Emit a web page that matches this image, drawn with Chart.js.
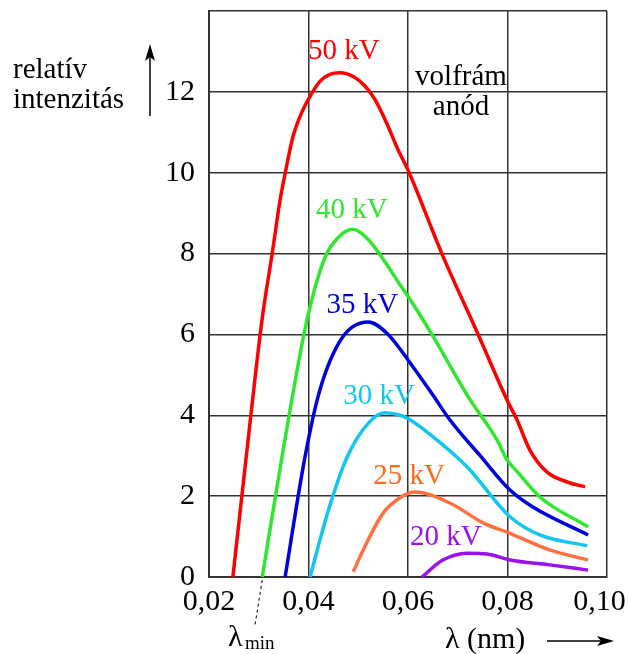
<!DOCTYPE html>
<html>
<head>
<meta charset="utf-8">
<script src="https://cdn.jsdelivr.net/npm/chart.js@4"></script>
<style>
html,body{margin:0;padding:0;background:#fff;}
#wrap{width:628px;height:654px;position:relative;}
</style>
</head>
<body>
<div id="wrap"><canvas id="c" width="628" height="654"></canvas></div>
<script>
// ---- data (wavelength in nm, relative intensity) ----
const lambda50 = [0.0248, 0.0276, 0.0307, 0.0327, 0.0343, 0.0353, 0.0369, 0.0386, 0.0403, 0.0423, 0.0443, 0.0463, 0.0490, 0.0514, 0.0534, 0.0557, 0.0577, 0.0603, 0.0668, 0.0741, 0.0799, 0.0819, 0.0845, 0.0879, 0.0920, 0.0956];
const int50    = [0, 3.1, 6.4, 8.0, 9.33, 9.98, 10.9, 11.48, 11.89, 12.26, 12.43, 12.47, 12.38, 12.14, 11.8, 11.23, 10.65, 9.98, 8.0, 6.0, 4.38, 3.89, 3.14, 2.6, 2.35, 2.23];

const lambda40 = [0.0307, 0.0349, 0.0397, 0.0433, 0.0460, 0.0489, 0.0520, 0.0584, 0.0614, 0.0648, 0.0725, 0.0779, 0.0799, 0.0820, 0.0865, 0.0962];
const int40    = [0, 3.14, 6.36, 7.9, 8.4, 8.6, 8.35, 7.23, 6.68, 6.0, 4.38, 3.39, 2.9, 2.6, 1.98, 1.24];

const lambda35 = [0.0353, 0.0393, 0.0423, 0.0469, 0.0520, 0.0560, 0.0604, 0.0650, 0.0684, 0.0745, 0.0805, 0.0851, 0.0962];
const int35    = [0, 2.97, 4.63, 5.94, 6.31, 6.0, 5.3, 4.5, 3.89, 3.0, 2.15, 1.73, 1.04];

const lambda30 = [0.0403, 0.0440, 0.0477, 0.0520, 0.0554, 0.0584, 0.0604, 0.0650, 0.0719, 0.0805, 0.0865, 0.0960];
const int30    = [0, 1.65, 2.95, 3.8, 4.06, 4.0, 3.89, 3.47, 2.72, 1.49, 1.04, 0.77];

const lambda25 = [0.0490, 0.0510, 0.0550, 0.0584, 0.0614, 0.0684, 0.0751, 0.0805, 0.0885, 0.0962];
const int25    = [0.13, 0.67, 1.58, 1.96, 2.1, 1.83, 1.34, 1.08, 0.67, 0.42];

const lambda20 = [0.0628, 0.0670, 0.0719, 0.0759, 0.0805, 0.0885, 0.0962];
const int20    = [0, 0.42, 0.59, 0.57, 0.42, 0.3, 0.17];

const seriesNames = ['50 kV', '40 kV', '35 kV', '30 kV', '25 kV', '20 kV'];

const xTickValues = [0.02, 0.04, 0.06, 0.08, 0.10];
const xTickLabels = ['0,02', '0,04', '0,06', '0,08', '0,10'];
const yTickValues = [0, 2, 4, 6, 8, 10, 12, 14];
const yTickLabels = ['0', '2', '4', '6', '8', '10', '12', ''];

// ---- styling ----
const colors = ['#ff0000', '#2ee82e', '#0000e0', '#12c6f2', '#ff7040', '#9b10ef'];
const labelColors = ['#ff0000', '#2ee82e', '#0000e0', '#12c6f2', '#ff6a1a', '#9b10ef'];
const labelPos = [[0.0471, 13.0], [0.0487, 9.08], [0.0508, 6.73], [0.0542, 4.46], [0.0602, 2.48], [0.0676, 0.99]];

const FONT = '"Liberation Serif", "Times New Roman", serif';

function pts(xs, ys){ return xs.map((x,i)=>({x:x, y:ys[i]})); }
const allX = [lambda50, lambda40, lambda35, lambda30, lambda25, lambda20];
const allY = [int50, int40, int35, int30, int25, int20];

const datasets = allX.map((xs,i)=>({
  label: seriesNames[i],
  data: pts(xs, allY[i]),
  borderColor: colors[i],
  borderWidth: 3.5,
  showLine: true,
  pointRadius: 0,
  cubicInterpolationMode: 'monotone',
  fill: false,
  clip: false
}));

const bgPlugin = {
  id: 'bg',
  beforeDraw(chart){
    const c = chart.ctx;
    c.save(); c.fillStyle = '#fff'; c.fillRect(0,0,chart.width,chart.height); c.restore();
  }
};

function arrowHead(c, x, y, dir){
  c.beginPath();
  if(dir==='up'){ c.moveTo(x, y); c.lineTo(x-5, y+17); c.lineTo(x, y+13); c.lineTo(x+5, y+17); }
  else { c.moveTo(x, y); c.lineTo(x-17, y-5); c.lineTo(x-13, y); c.lineTo(x-17, y+5); }
  c.closePath(); c.fill();
}

const textPlugin = {
  id: 'texts',
  afterDraw(chart){
    const c = chart.ctx;
    const xs = chart.scales.x, ys = chart.scales.y;
    c.save();
    // series labels
    c.font = '29px ' + FONT;
    c.textAlign = 'center'; c.textBaseline = 'middle';
    seriesNames.forEach((n,i)=>{
      c.fillStyle = labelColors[i];
      c.fillText(n, xs.getPixelForValue(labelPos[i][0]), ys.getPixelForValue(labelPos[i][1]));
    });
    // anode label
    c.fillStyle = '#000';
    c.textBaseline = 'alphabetic';
    c.font = '29px ' + FONT;
    c.fillText('volfrám', 461, 85);
    c.fillText('anód', 461, 115);
    // y title
    c.textAlign = 'left';
    c.font = '29px ' + FONT;
    c.fillText('relatív', 13, 78);
    c.fillText('intenzitás', 13, 108);
    // y arrow
    c.strokeStyle = '#000'; c.lineWidth = 1.5;
    c.beginPath(); c.moveTo(150, 116); c.lineTo(150, 50); c.stroke();
    arrowHead(c, 150, 44, 'up');
    // x title
    c.font = '30px ' + FONT;
    c.fillText('λ (nm)', 445, 648);
    c.beginPath(); c.moveTo(547, 641); c.lineTo(606, 641); c.stroke();
    arrowHead(c, 614, 641, 'right');
    // lambda min
    c.font = '30px ' + FONT;
    c.fillText('λ', 228, 646);
    c.font = '19px ' + FONT;
    c.fillText('min', 245, 649);
    c.setLineDash([3,3]); c.lineWidth = 1;
    c.beginPath(); c.moveTo(xs.getPixelForValue(lambda40[0]), 580); c.lineTo(255, 625); c.stroke();
    c.restore();
  }
};

function zeroPad(s){ s.paddingTop = 0; s.paddingBottom = 0; s.paddingLeft = 0; s.paddingRight = 0; }

new Chart(document.getElementById('c'), {
  type: 'scatter',
  data: { datasets },
  options: {
    responsive: false,
    animation: false,
    devicePixelRatio: 1,
    layout: { padding: { top: 11, right: 21, left: 0, bottom: 0 } },
    plugins: { legend: { display: false }, tooltip: { enabled: false } },
    scales: {
      x: {
        type: 'linear',
        min: xTickValues[0], max: xTickValues[xTickValues.length-1],
        afterBuildTicks(s){ s.ticks = xTickValues.map(v=>({value:v})); },
        afterFit(s){ s.height = 77; zeroPad(s); },
        grid: { color: '#333', lineWidth: 1.5, drawTicks: false },
        border: { display: true, color: '#333', width: 2 },
        ticks: {
          padding: 7,
          color: '#000',
          font: { family: FONT, size: 30 },
          maxRotation: 0,
          callback(v){
            const i = xTickValues.findIndex(t=>Math.abs(t-v)<1e-9);
            if (i < 0) return '';
            return i === xTickValues.length-1 ? xTickLabels[i] + '\u2002' : xTickLabels[i];
          }
        }
      },
      y: {
        type: 'linear',
        min: yTickValues[0], max: yTickValues[yTickValues.length-1],
        afterBuildTicks(s){ s.ticks = yTickValues.map(v=>({value:v})); },
        afterFit(s){ s.width = 209; zeroPad(s); },
        grid: { color: '#333', lineWidth: 1.5, drawTicks: false },
        border: { display: true, color: '#333', width: 2 },
        ticks: {
          padding: 14,
          color: '#000',
          font: { family: FONT, size: 30 },
          callback(v){ const i = yTickValues.indexOf(v); return i>=0 ? yTickLabels[i] : ''; }
        }
      }
    }
  },
  plugins: [bgPlugin, textPlugin]
});
</script>
</body>
</html>
